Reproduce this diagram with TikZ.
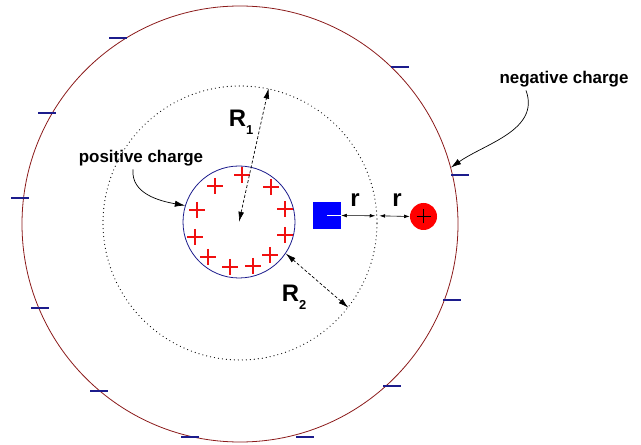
\documentclass[tikz,border=0pt]{standalone}
\usepackage{fontspec}
\setmainfont{Liberation Sans}
\usetikzlibrary{arrows.meta,positioning}
\definecolor{shellred}{HTML}{8B1A1A}
\definecolor{navy}{HTML}{1C1C8C}
\definecolor{chargered}{HTML}{F01010}

\begin{document}
\begin{tikzpicture}[
  x=1bp,y=-1bp,
  ring/.style={circle,inner sep=0pt},
  lbl/.style={font=\fontsize{17}{19}\selectfont\bfseries},
  rad/.style={font=\fontsize{24}{26}\selectfont\bfseries,inner sep=0pt},
  dim/.style={{Latex[length=3.6mm,width=2mm]}-{Latex[length=3.6mm,width=2mm]},dash pattern=on 3bp off 2bp,line width=0.7pt},
  gap/.style={{Latex[length=2mm,width=1.3mm]}-{Latex[length=2mm,width=1.3mm]},line width=0.6pt},
  arr/.style={-{Latex[length=3.6mm,width=2.2mm]},line width=0.7pt},
  plus/.style={chargered,line width=1.6pt},
  minus/.style={navy,line width=1.6pt}
]
\useasboundingbox (0,0) rectangle (641,445);
\node[ring,draw=shellred,line width=0.8pt,minimum size=436bp] (shell) at (240,224) {};
\node[ring,draw,line cap=round,dash pattern=on 0bp off 4bp,line width=1.2pt,minimum size=274bp] (gauss) at (240,223) {};
\node[ring,draw=navy,line width=0.8pt,minimum size=112bp] (sphere) at (239,222) {};
\foreach \x/\y in {242/175,215/186,271/187,197/210,285/209,195/237,285/235,208/257,270/255,230/267,253/266}
  \draw[plus] (\x-8,\y) -- (\x+8,\y) (\x,\y-8) -- (\x,\y+8);
\foreach \x/\y in {118/38,400/67,47/113,20/198,460/175,40/308,452/300,99/391,392/386,190/437,305/437}
  \draw[minus] (\x-9,\y) -- (\x+9,\y);
\node[lbl] (poslbl) at (141,158) {positive charge};
\node[lbl,anchor=west] (neglbl) at (496,79) {negative charge};
\draw[arr] ([xshift=-8bp]poslbl.south) to[out=-95,in=170] (sphere.163);
\draw[arr] ([xshift=-38bp]neglbl.south) to[out=-70,in=35] (shell.15);
\draw[dim] (sphere.center) -- (gauss.78);
\draw[dim] (sphere.-34) -- (gauss.-38);
\node[rad] (r1) at (241,122) {R\raisebox{-0.35em}{\fontsize{13}{13}\selectfont 1}};
\node[rad] (r2) at (294,297) {R\raisebox{-0.35em}{\fontsize{13}{13}\selectfont 2}};
\node[fill=blue,minimum width=28bp,minimum height=27bp,inner sep=0pt] (qneg) at (327,215.5) {};
\draw[white,line width=1.6pt] (qneg.center) -- (qneg.east);
\node[ring,fill=red,minimum size=27bp] (qpos) at (423.5,216.5) {};
\draw[line width=1.3pt] ([xshift=-7bp]qpos.center) -- ([xshift=7bp]qpos.center)
  ([yshift=-7bp]qpos.center) -- ([yshift=7bp]qpos.center);
\coordinate (cut) at (gauss.3);
\draw[gap] (qneg.east) -- ([xshift=-2bp]cut);
\draw[gap] ([xshift=2bp]cut) -- (qpos.west);
\node[rad] (ra) at (355,200) {r};
\node[rad] (rb) at (397,200) {r};
\end{tikzpicture}
\end{document}
